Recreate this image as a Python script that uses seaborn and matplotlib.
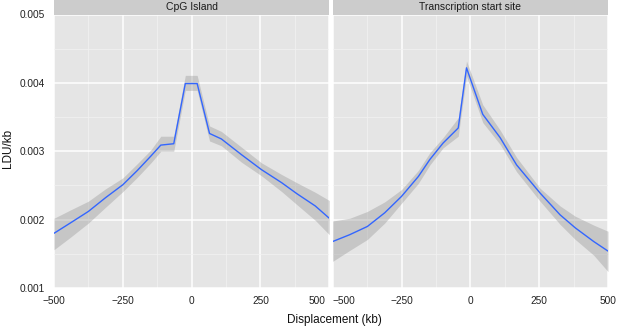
import numpy as np
import pandas as pd
import matplotlib
matplotlib.use("Agg")
import matplotlib.pyplot as plt
import matplotlib.transforms as mtransforms
import seaborn as sns
from matplotlib.patches import Rectangle

# ---- data ----
panels = ["CpG Island", "Transcription start site"]

x_cpg = [-500, -441, -375, -313, -250, -197, -148, -112, -65, -23, 20, 65, 108, 181, 254, 327, 382, 449, 500]
y_cpg = [0.00180, 0.00195, 0.00212, 0.00232, 0.00251, 0.00272, 0.00293, 0.00309, 0.00311, 0.00399,
         0.00399, 0.00326, 0.00318, 0.00295, 0.00273, 0.00254, 0.00238, 0.00220, 0.00202]
lo_cpg = [0.00156, 0.00174, 0.00195, 0.00218, 0.00241, 0.00262, 0.00283, 0.00300, 0.00300, 0.00389,
          0.00389, 0.00315, 0.00308, 0.00284, 0.00264, 0.00241, 0.00222, 0.00199, 0.00178]
hi_cpg = [0.00202, 0.00214, 0.00227, 0.00245, 0.00261, 0.00282, 0.00302, 0.00322, 0.00322, 0.00411,
          0.00411, 0.00337, 0.00329, 0.00306, 0.00283, 0.00266, 0.00254, 0.00240, 0.00228]

x_tss = [-500, -438, -374, -311, -250, -189, -147, -99, -44, -14, 45, 108, 168, 253, 326, 381, 448, 500]
y_tss = [0.00168, 0.00178, 0.00190, 0.00210, 0.00234, 0.00263, 0.00288, 0.00312, 0.00334, 0.00422,
         0.00354, 0.00320, 0.00280, 0.00239, 0.00207, 0.00188, 0.00168, 0.00154]
lo_tss = [0.00139, 0.00155, 0.00171, 0.00195, 0.00224, 0.00253, 0.00280, 0.00305, 0.00322, 0.00410,
          0.00342, 0.00310, 0.00270, 0.00227, 0.00193, 0.00171, 0.00148, 0.00124]
hi_tss = [0.00198, 0.00202, 0.00212, 0.00226, 0.00244, 0.00272, 0.00298, 0.00320, 0.00349, 0.00432,
          0.00368, 0.00331, 0.00291, 0.00246, 0.00220, 0.00205, 0.00192, 0.00183]

x_ticks = [-500, -250, 0, 250, 500]
x_ticklabels = ["\u2212500", "\u2212250", "0", "250", "500"]
y_ticks = [0.001, 0.002, 0.003, 0.004, 0.005]
y_ticklabels = ["0.001", "0.002", "0.003", "0.004", "0.005"]

df = pd.concat([
    pd.DataFrame({"panel": panels[0], "x": x_cpg, "y": y_cpg, "lo": lo_cpg, "hi": hi_cpg}),
    pd.DataFrame({"panel": panels[1], "x": x_tss, "y": y_tss, "lo": lo_tss, "hi": hi_tss}),
], ignore_index=True)

sns.set_theme(style="white")
plt.rcParams["font.family"] = ["Liberation Sans", "DejaVu Sans"]

W, H = 617, 327
g = sns.FacetGrid(df, col="panel", col_order=panels, sharey=True, sharex=True,
                  height=3.27, aspect=0.94, despine=False)


def draw(data, **kw):
    ax = plt.gca()
    ax.fill_between(data["x"], data["lo"], data["hi"], color="#999999", alpha=0.4,
                    linewidth=0, zorder=2)
    sns.lineplot(data=data, x="x", y="y", ax=ax, color="#3366FF", linewidth=1.0,
                 zorder=3, sort=False, estimator=None)


g.map_dataframe(draw)
fig = g.figure
fig.set_size_inches(W / 100, H / 100)
fig.set_dpi(100)

left, right = 54 / W, 608 / W
bottom, top = (H - 288) / H, (H - 14.5) / H
fig.subplots_adjust(left=left, right=right, bottom=bottom, top=top, wspace=0.0124)

strip_h = 14.5 / (288 - 14.5)
for i, (ax, name) in enumerate(zip(g.axes.flat, panels)):
    ax.set_facecolor("#E5E5E5")
    for s in ax.spines.values():
        s.set_visible(False)
    ax.set_xlim(-500, 500)
    ax.set_ylim(0.001, 0.005)
    ax.set_xticks(x_ticks)
    ax.set_xticklabels(x_ticklabels)
    ax.set_xticks([-375, -125, 125, 375], minor=True)
    ax.set_yticks(y_ticks)
    ax.set_yticks([0.0015, 0.0025, 0.0035, 0.0045], minor=True)
    ax.grid(which="major", color="white", linewidth=1.1, zorder=1)
    ax.grid(which="minor", color="#F2F2F2", linewidth=0.5, zorder=1)
    ax.set_axisbelow(True)
    ax.tick_params(axis="x", which="major", length=3, width=0.8, color="#7F7F7F",
                   labelsize=7.3, labelcolor="#222222", pad=3)
    ax.tick_params(which="minor", length=0)
    if i == 0:
        ax.set_yticklabels(y_ticklabels)
        ax.tick_params(axis="y", which="major", length=3.5, width=0.8, color="#7F7F7F",
                       labelsize=7.3, labelcolor="#222222", pad=3)
        lab = ax.get_xticklabels()[-1]
        lab.set_horizontalalignment("right")
        lab.set_transform(lab.get_transform() +
                          mtransforms.ScaledTranslation(-4 / 100, 0, fig.dpi_scale_trans))
    else:
        ax.tick_params(axis="y", which="major", length=0, labelleft=False)
        lab = ax.get_xticklabels()[0]
        lab.set_horizontalalignment("left")
    ax.set_xlabel("")
    ax.set_ylabel("")
    ax.set_title("")
    ax.add_patch(Rectangle((0, 1), 1, strip_h, transform=ax.transAxes,
                           facecolor="#CCCCCC", edgecolor="none", clip_on=False, zorder=5))
    ax.text(0.5, 1 + strip_h / 2, name, transform=ax.transAxes, ha="center", va="center",
            fontsize=7.5, color="#1A1A1A", zorder=6)

fig.text(334 / W, 1 - 322.5 / H, "Displacement (kb)", ha="center", va="baseline",
         fontsize=8.5, color="#111111")
fig.text(8 / W, 1 - 148 / H, "LDU/kb", ha="center", va="center", rotation=90,
         fontsize=8.5, color="#111111")

fig.savefig("out.png", dpi=100)
